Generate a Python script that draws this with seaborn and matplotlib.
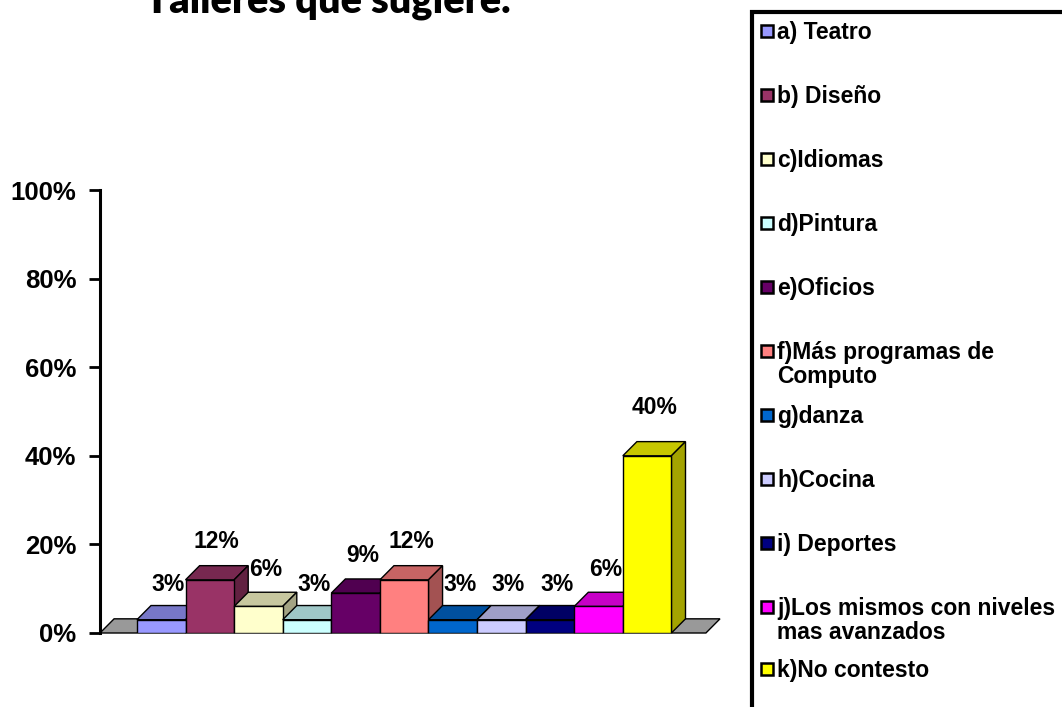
import numpy as np
import pandas as pd
import matplotlib
matplotlib.use("Agg")
import matplotlib.pyplot as plt
from matplotlib.patches import Polygon, Rectangle
from matplotlib.ticker import FuncFormatter
import seaborn as sns

# Survey results: suggested workshops
categories = ["a) Teatro", "b) Diseño", "c)Idiomas", "d)Pintura", "e)Oficios",
              "f)Más programas de\nComputo", "g)danza", "h)Cocina", "i) Deportes",
              "j)Los mismos con niveles\nmas avanzados", "k)No contesto"]
values = [3, 12, 6, 3, 9, 12, 3, 3, 3, 6, 40]
colors = ["#9999FF", "#993366", "#FFFFCC", "#CCFFFF", "#660066", "#FF8080",
          "#0066CC", "#CCCCFF", "#000080", "#FF00FF", "#FFFF00"]
yticks = [0, 20, 40, 60, 80, 100]
title = "Talleres que sugiere."

sns.set_theme(style="white")
plt.rcParams["font.family"] = ["Liberation Sans", "DejaVu Sans"]
plt.rcParams["text.color"] = "black"
plt.rcParams["ytick.color"] = "black"
plt.rcParams["ytick.labelcolor"] = "black"

W, H = 1062, 707
fig = plt.figure(figsize=(W / 100, H / 100), dpi=100)
ax = fig.add_axes([100 / W, (H - 633) / H, 620 / W, 443 / H])

df = pd.DataFrame({"cat": categories, "val": values})
sns.barplot(data=df, x="cat", y="val", hue="cat", palette=colors, width=1.0,
            saturation=1, edgecolor="black", linewidth=1.0, legend=False, ax=ax)

ax.set_xlim(-1.26, 11.5)
ax.set_ylim(0, 100)

# depth of the pseudo-3D extrusion, in data units
dx, dy = 0.29, 3.2


def shade(c, f):
    r, g, b = matplotlib.colors.to_rgb(c)
    return (r * f, g * f, b * f)


# floor slab under the columns
xl, xr = ax.get_xlim()
floor = Polygon([(xl, 0), (xr - dx, 0), (xr, dy), (xl + dx, dy)], closed=True,
                facecolor="#999999", edgecolor="black", linewidth=1.0,
                zorder=1, clip_on=False)
ax.add_patch(floor)

for i, (p, c, v) in enumerate(zip(ax.patches, colors, values)):
    x0 = p.get_x()
    w = p.get_width()
    h = p.get_height()
    z = 3 + i
    p.set_zorder(z + 0.5)
    top = Polygon([(x0, h), (x0 + w, h), (x0 + w + dx, h + dy), (x0 + dx, h + dy)],
                  closed=True, facecolor=shade(c, 0.78), edgecolor="black",
                  linewidth=1.0, zorder=z, clip_on=False)
    side = Polygon([(x0 + w, 0), (x0 + w + dx, dy), (x0 + w + dx, h + dy), (x0 + w, h)],
                   closed=True, facecolor=shade(c, 0.64), edgecolor="black",
                   linewidth=1.0, zorder=z, clip_on=False)
    ax.add_patch(top)
    ax.add_patch(side)
    ax.text(x0 + w / 2 + dx / 2, h + 7.8 + 0.08 * h, f"{v}%", ha="center",
            va="center", fontsize=16.5, fontweight="bold", color="black", zorder=20)

ax.set_xlabel("")
ax.set_ylabel("")
ax.set_xticks([])
ax.set_yticks(yticks)
ax.yaxis.set_major_formatter(FuncFormatter(lambda y, _: f"{int(y)}%"))
ax.tick_params(axis="y", which="major", left=True, direction="out", length=8,
               width=2, color="black", pad=9, labelsize=18.5)
for lab in ax.get_yticklabels():
    lab.set_fontweight("bold")
for s in ["top", "right", "bottom"]:
    ax.spines[s].set_visible(False)
ax.spines["left"].set_color("black")
ax.spines["left"].set_linewidth(2.2)
ax.spines["left"].set_zorder(30)
ax.patch.set_alpha(0)

# title (partially above the canvas top)
fig.text(328 / W, 1 - 12 / H, title, ha="center", va="baseline",
         fontsize=28.5, fontweight="heavy", family=["Lato", "DejaVu Sans"])

# legend box with fixed slots
fig.patches.append(Rectangle((752 / W, -0.05), 0.5, 1 - 12 / H + 0.05,
                             transform=fig.transFigure, facecolor="white",
                             edgecolor="black", linewidth=3, zorder=1))
slot_y = [31, 95, 159, 223, 287, 351, 415, 479, 543, 607, 669]
for yc, lab, c in zip(slot_y, categories, colors):
    fig.patches.append(Rectangle((761 / W, 1 - (yc + 6) / H), 12 / W, 12 / H,
                                 transform=fig.transFigure, facecolor=c,
                                 edgecolor="black", linewidth=1.8, zorder=2))
    fig.text(777 / W, 1 - (yc - 10) / H, lab, ha="left", va="top",
             fontsize=16.5, fontweight="bold", linespacing=1.05, zorder=3)

fig.savefig("out.png", dpi=100, facecolor="white")
